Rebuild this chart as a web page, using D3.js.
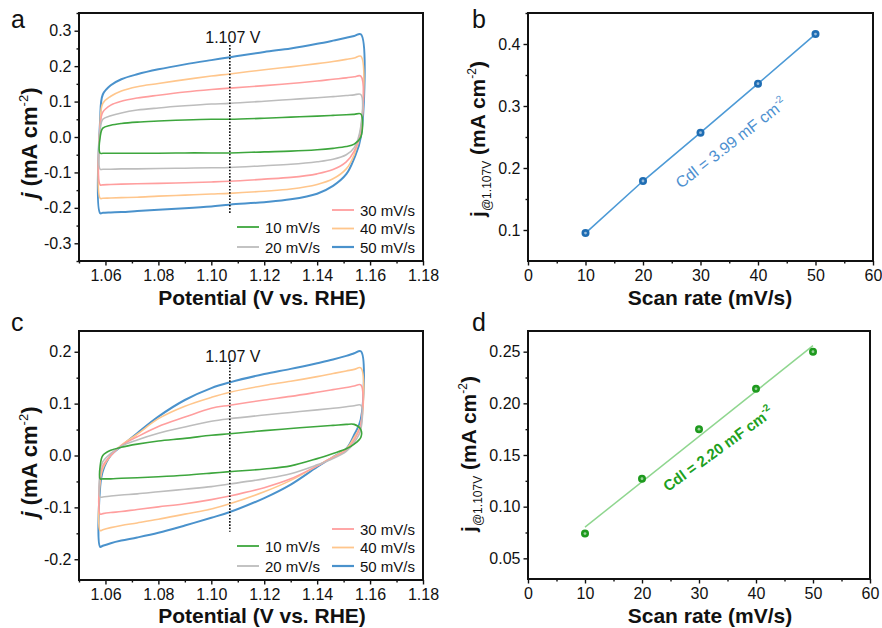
<!DOCTYPE html>
<html>
<head>
<meta charset="utf-8">
<script src="https://cdn.jsdelivr.net/npm/d3@7.9.0/dist/d3.min.js"></script>
<style>
  body { margin: 0; background: #fff; }
  svg { display: block; font-family: 'Liberation Sans', Arial, sans-serif; }
</style>
</head>
<body>
<svg id="chart" width="882" height="628"></svg>
<script>
// ---- data ----
const rateLabels = ['10 mV/s', '20 mV/s', '30 mV/s', '40 mV/s', '50 mV/s'];
const rateColors = ['#3da63d', '#bdbdbd', '#ff9e9e', '#ffc68c', '#4a92cc'];

// potential grid (V vs. RHE) shared by all CV branches
const potGrid = [1.058, 1.059, 1.062, 1.066, 1.072, 1.08, 1.09, 1.10, 1.107, 1.12, 1.13, 1.14, 1.146, 1.151, 1.154, 1.1565];

// panel a, anodic (upper) and cathodic (lower) branches, mA cm-2
const a10Up   = [0.0, 0.025, 0.033, 0.038, 0.042, 0.045, 0.048, 0.05, 0.05, 0.053, 0.056, 0.059, 0.061, 0.063, 0.064, 0.065];
const a10Down = [-0.046, -0.046, -0.046, -0.046, -0.046, -0.046, -0.045, -0.045, -0.045, -0.042, -0.04, -0.036, -0.032, -0.027, -0.02, 0.0];
const a20Up   = [0.02, 0.05, 0.06, 0.068, 0.076, 0.082, 0.088, 0.093, 0.095, 0.101, 0.106, 0.111, 0.114, 0.117, 0.119, 0.12];
const a20Down = [-0.091, -0.091, -0.091, -0.09, -0.09, -0.089, -0.088, -0.087, -0.086, -0.081, -0.077, -0.07, -0.063, -0.05, -0.03, 0.03];
const a30Up   = [0.03, 0.07, 0.09, 0.101, 0.11, 0.118, 0.127, 0.134, 0.138, 0.145, 0.151, 0.158, 0.163, 0.167, 0.17, 0.172];
const a30Down = [-0.135, -0.135, -0.134, -0.133, -0.132, -0.131, -0.129, -0.127, -0.125, -0.119, -0.114, -0.104, -0.092, -0.07, -0.04, 0.02];
const a40Up   = [0.04, 0.095, 0.115, 0.13, 0.142, 0.151, 0.162, 0.172, 0.178, 0.19, 0.198, 0.207, 0.213, 0.219, 0.223, 0.228];
const a40Down = [-0.173, -0.173, -0.172, -0.171, -0.17, -0.167, -0.164, -0.161, -0.159, -0.153, -0.147, -0.134, -0.118, -0.09, -0.05, 0.02];
const a50Up   = [0.05, 0.12, 0.146, 0.163, 0.177, 0.191, 0.205, 0.217, 0.225, 0.24, 0.25, 0.263, 0.272, 0.28, 0.285, 0.29];
const a50Down = [-0.215, -0.214, -0.213, -0.212, -0.209, -0.205, -0.201, -0.196, -0.191, -0.184, -0.176, -0.16, -0.138, -0.105, -0.06, 0.0];

// panel c
const c10Up   = [-0.02, 0.0, 0.01, 0.016, 0.022, 0.028, 0.033, 0.039, 0.042, 0.048, 0.052, 0.056, 0.058, 0.06, 0.06, 0.05];
const c10Down = [-0.045, -0.045, -0.045, -0.044, -0.043, -0.041, -0.038, -0.034, -0.031, -0.026, -0.02, -0.006, 0.004, 0.013, 0.022, 0.035];
const c20Up   = [-0.03, -0.012, 0.004, 0.018, 0.03, 0.043, 0.055, 0.066, 0.071, 0.078, 0.083, 0.088, 0.091, 0.094, 0.096, 0.097];
const c20Down = [-0.08, -0.08, -0.078, -0.076, -0.074, -0.07, -0.065, -0.06, -0.055, -0.045, -0.035, -0.018, -0.006, 0.008, 0.025, 0.05];
const c30Up   = [-0.04, -0.02, 0.0, 0.019, 0.036, 0.056, 0.074, 0.091, 0.097, 0.107, 0.114, 0.122, 0.127, 0.131, 0.134, 0.136];
const c30Down = [-0.113, -0.112, -0.11, -0.108, -0.104, -0.099, -0.093, -0.085, -0.078, -0.062, -0.045, -0.02, -0.004, 0.01, 0.03, 0.06];
const c40Up   = [-0.05, -0.025, 0.0, 0.02, 0.041, 0.071, 0.095, 0.112, 0.122, 0.135, 0.143, 0.152, 0.158, 0.163, 0.166, 0.169];
const c40Down = [-0.145, -0.143, -0.139, -0.135, -0.13, -0.123, -0.113, -0.103, -0.093, -0.07, -0.048, -0.02, -0.003, 0.013, 0.035, 0.06];
const c50Up   = [-0.06, -0.03, 0.0, 0.018, 0.043, 0.075, 0.107, 0.13, 0.141, 0.157, 0.167, 0.178, 0.185, 0.192, 0.197, 0.201];
const c50Down = [-0.176, -0.174, -0.169, -0.164, -0.158, -0.149, -0.135, -0.12, -0.109, -0.082, -0.056, -0.022, -0.003, 0.013, 0.04, 0.07];

// panels b and d
const scanRates = [10, 20, 30, 40, 50];
const jA = [0.095, 0.179, 0.257, 0.336, 0.416];
const jC = [0.074, 0.127, 0.175, 0.214, 0.250];

const loopsA = [[a10Up, a10Down], [a20Up, a20Down], [a30Up, a30Down], [a40Up, a40Down], [a50Up, a50Down]];
const loopsC = [[c10Up, c10Down], [c20Up, c20Down], [c30Up, c30Down], [c40Up, c40Down], [c50Up, c50Down]];

// ---- drawing ----
const svg = d3.select('#chart');
svg.append('rect').attr('width', 882).attr('height', 628).attr('fill', '#fff');

const fmt = f => d => d3.format(f)(d).replace('\u2212', '-');

function axes(box, x, y, o) {
  const g = svg.append('g');
  // minor ticks
  g.append('g').attr('transform', `translate(0,${box.y1})`)
    .call(d3.axisBottom(x).tickValues(o.xMinor).tickSize(2.5).tickFormat(''));
  g.append('g').attr('transform', `translate(${box.x0},0)`)
    .call(d3.axisLeft(y).tickValues(o.yMinor).tickSize(2.5).tickFormat(''));
  // major ticks
  g.append('g').attr('transform', `translate(0,${box.y1})`)
    .call(d3.axisBottom(x).tickValues(o.xTicks).tickSize(4.5).tickPadding(4).tickFormat(fmt(o.xFmt)));
  g.append('g').attr('transform', `translate(${box.x0},0)`)
    .call(d3.axisLeft(y).tickValues(o.yTicks).tickSize(4.5).tickPadding(3).tickFormat(fmt(o.yFmt)));
  g.selectAll('.domain').remove();
  g.selectAll('line').attr('stroke', '#111').attr('stroke-width', 1.4);
  g.selectAll('text').attr('font-size', 16).attr('fill', '#111')
    .attr('font-family', "'Liberation Sans', Arial, sans-serif");
  svg.append('rect').attr('x', box.x0).attr('y', box.y0)
    .attr('width', box.x1 - box.x0).attr('height', box.y1 - box.y0)
    .attr('fill', 'none').attr('stroke', '#111').attr('stroke-width', 2);
}

function letter(t, x, y) {
  svg.append('text').attr('x', x).attr('y', y).attr('font-size', 25).attr('fill', '#111').text(t);
}

function xTitle(t, cx, y) {
  svg.append('text').attr('x', cx).attr('y', y).attr('text-anchor', 'middle')
    .attr('font-size', 21).attr('font-weight', 'bold').attr('fill', '#111').text(t);
}

function jTitle(x, cy) {
  const t = svg.append('text').attr('transform', `translate(${x},${cy}) rotate(-90)`)
    .attr('text-anchor', 'middle').attr('font-size', 22).attr('font-weight', 'bold').attr('fill', '#111');
  t.append('tspan').attr('font-style', 'italic').text('j');
  t.append('tspan').text(' (mA cm');
  t.append('tspan').attr('font-size', 13).attr('font-weight', 'normal').attr('dy', -9).text('-2');
  t.append('tspan').attr('dy', 9).text(')');
}

function jAtTitle(x, cy) {
  const t = svg.append('text').attr('transform', `translate(${x},${cy}) rotate(-90)`)
    .attr('text-anchor', 'middle').attr('font-size', 21).attr('font-weight', 'bold').attr('fill', '#111');
  t.append('tspan').text('j');
  t.append('tspan').attr('font-size', 12).attr('font-weight', 'normal').attr('dy', 6).text('@1.107V');
  t.append('tspan').attr('dy', -6).text(' (mA cm');
  t.append('tspan').attr('font-size', 12).attr('font-weight', 'normal').attr('dy', -9).text('-2');
  t.append('tspan').attr('dy', 9).text(')');
}

function cvPanel(box, yDomain, yTicks, yMinor, loops, markTop, markBottom, labelY) {
  const x = d3.scaleLinear().domain([1.05, 1.18]).range([box.x0, box.x1]);
  const y = d3.scaleLinear().domain(yDomain).range([box.y1, box.y0]);
  const line = d3.line().x(d => x(d[0])).y(d => y(d[1])).curve(d3.curveCatmullRomClosed.alpha(0.5));
  const g = svg.append('g');
  // draw 50 mV/s first, 10 mV/s on top
  loops.map((lp, i) => ({ lp, i })).reverse().forEach(({ lp, i }) => {
    const pts = lp[0].map((j, k) => [potGrid[k], j])
      .concat(lp[1].map((j, k) => [potGrid[k], j]).reverse());
    g.append('path').attr('d', line(pts)).attr('fill', 'none')
      .attr('stroke', rateColors[i]).attr('stroke-width', i === 4 ? 2 : 1.6)
      .attr('stroke-linejoin', 'round');
  });
  // 1.107 V marker
  g.append('line').attr('x1', x(1.107)).attr('x2', x(1.107))
    .attr('y1', y(markTop)).attr('y2', y(markBottom))
    .attr('stroke', '#111').attr('stroke-width', 1.6).attr('stroke-dasharray', '1.6,1.6');
  g.append('text').attr('x', x(1.107) + 3).attr('y', labelY).attr('text-anchor', 'middle')
    .attr('font-size', 16).attr('fill', '#111').text('1.107 V');

  axes(box, x, y, {
    xTicks: d3.range(1.06, 1.181, 0.02), xMinor: d3.range(1.05, 1.18, 0.02), xFmt: '.2f',
    yTicks, yMinor, yFmt: '.1f'
  });

  // legend: two columns, bottom aligned
  const lg = svg.append('g').attr('font-size', 15).attr('fill', '#111');
  const bottom = box.y1 - 14;
  const items = [
    { i: 0, lx: 237, ly: bottom - 20 }, { i: 1, lx: 237, ly: bottom },
    { i: 2, lx: 332, ly: bottom - 37 }, { i: 3, lx: 332, ly: bottom - 18.5 }, { i: 4, lx: 332, ly: bottom }
  ];
  items.forEach(it => {
    lg.append('line').attr('x1', it.lx).attr('x2', it.lx + 22).attr('y1', it.ly).attr('y2', it.ly)
      .attr('stroke', rateColors[it.i]).attr('stroke-width', it.i === 4 ? 2.2 : 1.8);
    lg.append('text').attr('x', it.lx + 28).attr('y', it.ly + 5.5).text(rateLabels[it.i]);
  });
}

function ratePanel(box, yDomain, yTicks, yMinor, yFmt, vals, fit, lineColor, dotColor, textColor, label, labelPos, angle, bold) {
  const x = d3.scaleLinear().domain([0, 60]).range([box.x0, box.x1]);
  const y = d3.scaleLinear().domain(yDomain).range([box.y1, box.y0]);
  const g = svg.append('g');
  if (fit) {
    const mx = d3.mean(scanRates), my = d3.mean(vals);
    const slope = d3.sum(scanRates, (s, k) => (s - mx) * (vals[k] - my)) / d3.sum(scanRates, s => (s - mx) ** 2);
    const b0 = my - slope * mx;
    const ends = [scanRates[0], scanRates[scanRates.length - 1]];
    g.append('line').attr('x1', x(ends[0])).attr('y1', y(b0 + slope * ends[0]))
      .attr('x2', x(ends[1])).attr('y2', y(b0 + slope * ends[1]))
      .attr('stroke', lineColor).attr('stroke-width', 1.5);
  } else {
    g.append('path').attr('d', d3.line().x((s) => x(s)).y((s, k) => y(vals[k]))(scanRates))
      .attr('fill', 'none').attr('stroke', lineColor).attr('stroke-width', 1.6);
  }
  scanRates.forEach((s, k) => {
    g.append('circle').attr('cx', x(s)).attr('cy', y(vals[k])).attr('r', 4).attr('fill', dotColor);
    g.append('circle').attr('cx', x(s)).attr('cy', y(vals[k])).attr('r', 1.4).attr('fill', '#fff').attr('opacity', 0.55);
  });
  const t = g.append('text').attr('transform', `translate(${labelPos[0]},${labelPos[1]}) rotate(${angle})`)
    .attr('font-size', bold ? 15 : 16).attr('font-weight', bold ? 'bold' : 'normal').attr('fill', textColor);
  t.append('tspan').text(label);
  t.append('tspan').attr('font-size', 10).attr('dy', -7).text('-2');

  axes(box, x, y, {
    xTicks: d3.range(0, 61, 10), xMinor: d3.range(5, 60, 10), xFmt: 'd',
    yTicks, yMinor, yFmt
  });
}

const pa = { x0: 79, x1: 423, y0: 13, y1: 261 };
const pb = { x0: 528, x1: 873, y0: 13, y1: 261 };
const pc = { x0: 79, x1: 423, y0: 331, y1: 580 };
const pd = { x0: 528, x1: 870, y0: 331, y1: 579 };

cvPanel(pa, [-0.35, 0.35], [-0.3, -0.2, -0.1, 0, 0.1, 0.2, 0.3], [-0.35, -0.25, -0.15, -0.05, 0.05, 0.15, 0.25, 0.35],
  loopsA, 0.26, -0.218, 43);
cvPanel(pc, [-0.24, 0.24], [-0.2, -0.1, 0, 0.1, 0.2], [-0.15, -0.05, 0.05, 0.15],
  loopsC, 0.182, -0.147, 362);

ratePanel(pb, [0.05, 0.45], [0.1, 0.2, 0.3, 0.4], [0.15, 0.25, 0.35, 0.45], '.1f',
  jA, false, '#4d9ad6', '#1f6db3', '#4d90d0', 'Cdl = 3.99 mF cm', [681, 189], -38, false);
ratePanel(pd, [0.03, 0.27], [0.05, 0.10, 0.15, 0.20, 0.25], [0.075, 0.125, 0.175, 0.225], '.2f',
  jC, true, '#8fd68f', '#1e9a1e', '#20a020', 'Cdl = 2.20 mF cm', [668, 492], -36, true);

letter('a', 11, 28);
letter('b', 472, 28);
letter('c', 11, 331);
letter('d', 472, 331);

xTitle('Potential (V vs. RHE)', 262, 305);
xTitle('Scan rate (mV/s)', 710, 305);
xTitle('Potential (V vs. RHE)', 262, 623);
xTitle('Scan rate (mV/s)', 710, 623);

jTitle(37, 143);
jTitle(37, 462);
jAtTitle(485, 139);
jAtTitle(476, 454);
</script>
</body>
</html>
